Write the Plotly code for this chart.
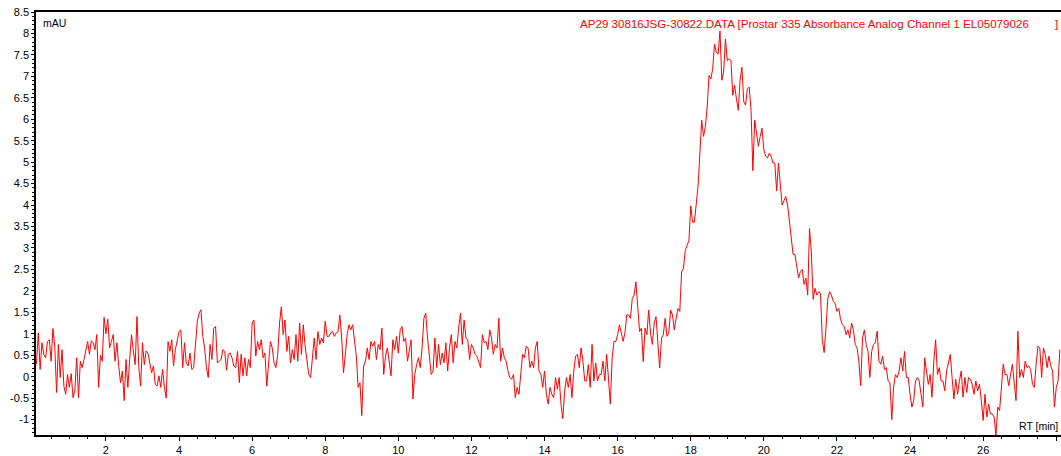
import numpy as np
import plotly.graph_objects as go

# Retention-time sampling: each segment starts at a time and is sampled every 0.05 min
STEP_MIN = 0.05
seg_start_min = [0.10, 5.45, 10.90, 16.35, 20.45, 21.40]

# Absorbance values (mAU)
mau_seg_a = [  # 0.10 - 5.40 min
    0.30, 1.02, 0.17, 0.79, 0.52, 0.44, 0.82, 0.86, 0.36, 1.12,
    0.71, -0.37, 0.75, -0.02, 0.63, -0.22, -0.41, 0.05, -0.25, 0.07,
    -0.49, -0.33, 0.44, -0.49, 0.36, 0.21, 0.40, 0.60, 0.82, 0.52,
    0.84, 0.79, 0.63, 0.98, -0.25, 0.50, 0.36, 1.38, 1.00, 1.34,
    0.67, 0.82, 0.98, 0.36, 0.79, 0.25, -0.14, 0.13, -0.56, 0.40,
    -0.25, 0.40, 0.98, 0.60, 0.28, 1.40, 0.21, -0.22, 0.79, 0.28,
    0.60, 0.55, 0.32, 0.09, 0.25, -0.18, -0.22, 0.02, -0.25, 0.17,
    -0.25, -0.50, 0.82, 0.59, 0.86, 0.25, 0.63, 0.86, 1.05, 1.09,
    0.21, 0.79, 0.32, 0.25, 0.55, 0.17, 0.21, 0.75, 1.29, 1.48,
    1.56, 0.94, 0.67, 0.21, -0.02, 0.75, 0.40, 1.13, 1.17, 0.32,
    0.36, 0.40, 0.63, 0.59, 0.15, 0.52, 0.55,
]
mau_seg_b = [  # 5.45 - 10.85 min
    0.44, 0.25, 0.21, 0.59, -0.14, 0.52, 0.02, 0.44, 0.02, 0.40,
    0.21, 1.25, 1.32, 0.48, 0.82, 0.63, 0.86, 0.44, 0.55, -0.22,
    0.28, 0.82, 0.67, 0.32, 0.21, 0.52, 1.25, 1.63, 0.98, 1.32,
    0.59, 0.94, 0.32, 0.63, 0.40, 0.98, 0.36, 1.25, 0.52, 1.21,
    0.71, 0.40, 0.05, -0.02, 0.48, 0.90, 0.40, 1.05, 0.75, 0.90,
    0.79, 1.29, 0.94, 0.94, 1.02, 1.05, 0.94, 1.02, 1.05, 1.44,
    0.90, 0.09, 0.52, 0.98, 1.21, 1.09, 1.21, 0.90, 0.48, -0.25,
    -0.14, -0.91, 0.25, 0.36, 0.67, 0.40, 0.82, 0.71, 0.82, 0.40,
    0.75, 0.63, 1.13, 0.05, 0.48, 0.67, 0.32, 0.02, 0.86, 0.63,
    0.94, 0.55, 1.09, 1.17, 0.82, 0.90, 0.36, 0.59, 0.86, -0.52,
    0.05, 0.28, 0.44, 0.21, 0.67, 1.36, 1.48, 0.90, 0.48,
]
mau_seg_c = [  # 10.90 - 16.30 min
    0.05, 0.13, 0.90, 0.21, 0.75, 0.28, 0.55, 0.32, 0.79, 0.13,
    0.67, 0.98, 0.32, 0.82, 0.67, 1.13, 1.48, 0.75, 1.32, 0.90,
    0.86, 0.40, 0.75, 0.67, 0.52, 0.48, 0.36, 0.21, 0.98, 0.79,
    0.82, 0.63, 1.09, 0.90, 0.52, 0.75, 0.67, 1.36, 0.36, 0.67,
    0.44, 0.36, 0.13, -0.02, -0.06, 0.05, -0.49, -0.25, -0.41, 0.13,
    0.52, 0.44, 0.71, 0.67, 0.21, 0.36, 0.21, 0.67, 0.82, 0.13,
    0.05, -0.25, 0.13, -0.41, -0.64, -0.25, -0.41, -0.49, -0.02, -0.29,
    -0.02, -0.64, -0.98, -0.33, -0.02, -0.25, 0.05, -0.49, 0.13, 0.48,
    0.52, 0.21, 0.67, 0.36, -0.10, -0.10, 0.28, -0.25, 0.75, -0.10,
    0.32, -0.10, 0.05, 0.05, 0.36, -0.10, 0.52, -0.06, -0.64, 0.44,
    0.82, 0.82, 0.98, 1.21, 0.98, 0.82, 1.02, 1.44, 1.44,
]
mau_seg_d = [  # 16.35 - 20.40 min (main peak)
    1.36, 1.82, 1.90, 2.21, 1.52, 1.05, 1.13, 0.35, 1.13, 0.98,
    1.55, 1.02, 0.75, 1.25, 1.40, 0.67, 0.20, 0.90, 0.98, 1.36,
    0.94, 1.02, 1.55, 1.44, 1.09, 1.36, 1.59, 1.52, 2.44, 2.52,
    2.94, 3.06, 3.17, 3.98, 3.60, 3.60, 4.06, 4.44, 5.21, 5.98,
    5.60, 5.83, 6.29, 7.02, 6.94, 7.17, 7.75, 7.56, 7.52, 8.06,
    6.91, 7.10, 7.87, 7.37, 7.41, 7.37, 6.56, 6.79, 6.48, 6.21,
    6.91, 7.21, 6.41, 6.33, 6.71, 6.75, 6.21, 4.80, 5.98, 5.71,
    5.37, 5.60, 5.79, 5.29, 5.14, 5.10, 5.21, 5.14, 4.98, 4.98,
    4.33, 4.98,
]
mau_seg_e = [  # 20.45 - 21.35 min
    4.50, 4.00, 4.10, 4.20, 4.00, 3.60, 3.10, 2.85, 2.85, 2.60,
    2.30, 2.45, 2.50, 2.15, 2.30, 1.90, 3.45, 2.90, 1.80,
]
mau_seg_f = [  # 21.40 - 28.10 min
    2.06, 1.90, 1.98, 1.94, 0.86, 0.56, 1.13, 1.82, 1.98, 1.90,
    1.75, 1.71, 1.52, 1.59, 1.33, 1.21, 1.17, 0.98, 1.09, 0.90,
    1.25, 1.09, 0.75, 0.67, 0.36, -0.21, 0.90, 1.09, 0.75, 0.59,
    -0.02, 0.59, 0.75, 0.79, 1.06, 0.36, 0.29, 0.48, 0.17, 0.21,
    -0.10, -0.14, -1.00, -0.25, 0.05, -0.02, 0.13, 0.44, 0.13, 0.59,
    -0.02, -0.02, -0.41, -0.71, -0.56, -0.10, -0.02, -0.10, -0.41, -0.71,
    0.44, 0.13, -0.18, 0.05, -0.48, 0.36, 0.86, 0.05, 0.21, -0.10,
    -0.10, -0.33, 0.13, 0.32, 0.52, -0.02, -0.52, -0.06, -0.41, -0.10,
    0.13, -0.48, -0.02, -0.37, -0.02, -0.06, -0.18, -0.41, -0.10, -0.33,
    -0.18, -0.56, -1.02, -0.41, -0.94, -0.64, -0.87, -0.87, -0.94, -1.37,
    -0.71, -0.79, -0.14, 0.29, 0.05, 0.05, -0.21, 0.05, 0.29, -0.14,
    -0.56, 1.06, -0.02, 0.17, -0.02, 0.36, 0.21, 0.25, 0.17, -0.18,
    -0.25, 0.29, 0.71, 0.67, -0.02, 0.67, 0.52, 0.21, 0.48, 0.25,
    0.13, -0.71, -0.25, -0.10, 0.63,
]

# Axis ticks
x_tick_vals = [2, 4, 6, 8, 10, 12, 14, 16, 18, 20, 22, 24, 26, 28]
y_tick_vals = [-1, -0.5, 0, 0.5, 1, 1.5, 2, 2.5, 3, 3.5, 4, 4.5, 5, 5.5, 6, 6.5, 7, 7.5, 8, 8.5]
y_tick_text = ["-1", "-0.5", "0", "0.5", "1", "1.5", "2", "2.5", "3", "3.5", "4", "4.5",
               "5", "5.5", "6", "6.5", "7", "7.5", "8", "8.5"]

header_text = "AP29 30816JSG-30822.DATA [Prostar 335 Absorbance Analog Channel 1 EL05079026"

segments = [mau_seg_a, mau_seg_b, mau_seg_c, mau_seg_d, mau_seg_e, mau_seg_f]
rt = np.concatenate([s + STEP_MIN * np.arange(len(v)) for s, v in zip(seg_start_min, segments)])
mau = np.concatenate([np.array(v, dtype=float) for v in segments])

FONT = "Arial, 'Liberation Sans', sans-serif"
RED = "#ff0000"

fig = go.Figure()
fig.add_trace(go.Scatter(x=rt, y=mau, mode="lines",
                         line=dict(color=RED, width=1), hoverinfo="skip",
                         showlegend=False))

fig.update_layout(
    width=1061, height=456, autosize=False,
    margin=dict(l=36, r=0, t=12, b=18, pad=0),
    paper_bgcolor="white", plot_bgcolor="white",
    font=dict(family=FONT, size=11, color="black"),
    showlegend=False,
)
fig.update_xaxes(
    range=[0.087, 28.13], showgrid=False, zeroline=False,
    showline=True, linecolor="black", linewidth=1.5, mirror=True,
    tickmode="array", tickvals=x_tick_vals,
    ticks="outside", ticklen=4, tickwidth=1, tickcolor="black",
    tickfont=dict(family=FONT, size=11, color="black"),
    minor=dict(dtick=0.5, tick0=0, ticks="outside", ticklen=2, tickcolor="black", tickwidth=1),
)
fig.update_yaxes(
    range=[-1.36, 8.5], showgrid=False, zeroline=False,
    showline=True, linecolor="black", linewidth=1.5,
    tickmode="array", tickvals=y_tick_vals, ticktext=y_tick_text,
    ticks="outside", ticklen=3, tickwidth=1, tickcolor="black",
    tickfont=dict(family=FONT, size=11, color="black"),
    minor=dict(dtick=0.1, tick0=0, ticks="outside", ticklen=2, tickcolor="black", tickwidth=1),
)

fig.add_annotation(text="mAU", xref="paper", yref="paper", x=0, y=1,
                   xanchor="left", yanchor="top", xshift=5, yshift=-3,
                   showarrow=False, font=dict(family=FONT, size=10.5, color="black"))
fig.add_annotation(text=header_text, xref="paper", yref="paper", x=(578 - 36) / 1025, y=1,
                   xanchor="left", yanchor="top", yshift=-3,
                   showarrow=False, font=dict(family=FONT, size=11.6, color=RED))
fig.add_annotation(text="]", xref="paper", yref="paper", x=1, y=1,
                   xanchor="right", yanchor="top", xshift=-1, yshift=-3,
                   showarrow=False, font=dict(family=FONT, size=11.6, color=RED))
fig.add_annotation(text="RT [min]", xref="paper", yref="paper", x=1, y=0,
                   xanchor="right", yanchor="bottom", xshift=-1, yshift=1,
                   showarrow=False, font=dict(family=FONT, size=10.5, color="black"))

fig.write_html("out.html", config={"displayModeBar": False},
               post_script="document.body.style.margin='0';")
